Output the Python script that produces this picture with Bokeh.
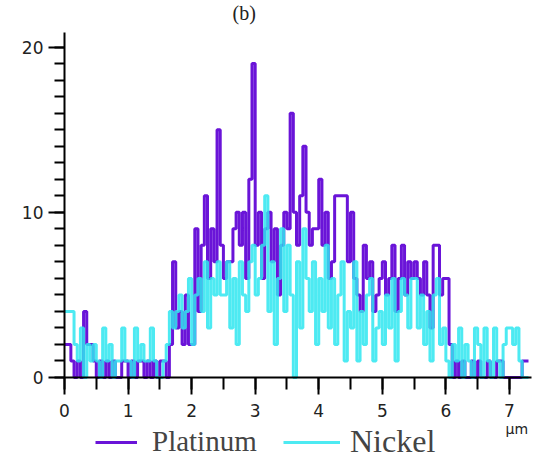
from bokeh.plotting import figure
from bokeh.models import (SingleIntervalTicker, Legend, LegendItem, Range1d, Label)
from bokeh.embed import file_html
from bokeh.resources import INLINE

# bin width 0.05 um, bins start at 0
bin_width = 0.05
platinum = [
    2, 2, 1, 0, 1, 0, 4, 2, 2, 1,
    0, 1, 0, 1, 0, 1, 0, 0, 1, 1,
    0, 1, 0, 1, 1, 0, 1, 0, 1, 0,
    1, 1, 0, 2, 7, 3, 4, 2, 5, 2,
    2, 9, 4, 8, 11, 6, 9, 7, 15, 8,
    6, 7, 7, 9, 10, 8, 10, 6, 12, 19,
    8, 10, 6, 9, 10, 7, 9, 5, 8, 10,
    9, 16, 10, 8, 11, 14, 10, 8, 9, 9,
    12, 8, 10, 6, 7, 11, 11, 11, 11, 7,
    10, 6, 5, 4, 8, 6, 7, 4, 5, 6,
    7, 5, 6, 8, 4, 6, 8, 5, 7, 6,
    7, 6, 5, 7, 5, 3, 8, 8, 5, 6,
    6, 2, 0, 1, 0, 1, 0, 0, 1, 0,
    1, 0, 0, 1, 0, 0, 1, 1, 0, 0,
    0, 0, 0, 0, 1, 1,
]
nickel = [
    4, 4, 4, 2, 1, 3, 0, 2, 1, 2,
    1, 0, 3, 1, 2, 0, 1, 1, 3, 1,
    1, 0, 3, 1, 2, 1, 1, 3, 1, 0,
    0, 1, 2, 4, 3, 4, 5, 3, 4, 6,
    2, 5, 6, 4, 7, 3, 6, 5, 7, 5,
    5, 7, 3, 6, 2, 7, 5, 4, 7, 8,
    5, 6, 8, 11, 4, 7, 2, 6, 9, 4,
    8, 5, 0, 7, 3, 9, 6, 4, 7, 2,
    6, 4, 8, 3, 6, 2, 5, 7, 1, 4,
    3, 7, 1, 4, 2, 5, 6, 1, 3, 4,
    2, 5, 3, 6, 1, 4, 6, 5, 3, 6,
    6, 3, 5, 2, 4, 1, 5, 6, 2, 3,
    1, 0, 2, 1, 3, 0, 2, 1, 0, 3,
    2, 0, 3, 1, 0, 3, 1, 0, 2, 3,
    3, 2, 3, 1, 0, 0,
]
series_names = ["Platinum", "Nickel"]
series_colors = ["#6a14d8", "#2ee6f0"]
unit_label = "µm"
panel_label = "(b)"


def step_xy(vals):
    xs = [i * bin_width for i in range(len(vals) + 1)]
    ys = list(vals) + [vals[-1]]
    return xs, ys


# frame covers the whole canvas; axes sit at data 0 via fixed_location
p = figure(width=536, height=462, output_backend="svg", toolbar_location=None,
           x_range=Range1d(-1.007, 7.426), y_range=Range1d(-5.145, 22.82),
           min_border=0)
p.outline_line_color = None
p.xgrid.visible = False
p.ygrid.visible = False
p.background_fill_color = "white"

xs, ys = step_xy(platinum)
r_pt = p.step(xs, ys, mode="after", line_color=series_colors[0], line_width=3)
xs, ys = step_xy(nickel)
r_ni = p.step(xs, ys, mode="after", line_color=series_colors[1], line_width=3,
              line_alpha=0.85)

for ax in (p.xaxis[0], p.yaxis[0]):
    ax.fixed_location = 0
    ax.axis_line_width = 2
    ax.major_tick_line_width = 2
    ax.minor_tick_line_width = 2
    ax.major_tick_in = 0
    ax.minor_tick_in = 0
    ax.major_label_text_font = "DejaVu Sans"
    ax.major_label_text_font_size = "17px"
    ax.major_label_text_color = "#222222"

p.xaxis.bounds = (0, 7.35)
p.xaxis.ticker = SingleIntervalTicker(interval=1, num_minor_ticks=2)
p.xaxis.major_tick_out = 17
p.xaxis.minor_tick_out = 12
p.xaxis.major_label_standoff = 9

p.yaxis.bounds = (0, 20.9)
p.yaxis.ticker = SingleIntervalTicker(interval=10, num_minor_ticks=10)
p.yaxis.major_tick_out = 16
p.yaxis.minor_tick_out = 10
p.yaxis.major_label_standoff = 5

legend_pt = Legend(items=[LegendItem(label=series_names[0], renderers=[r_pt])],
                   location=(95, 4),
                   label_text_font="Liberation Serif", label_text_font_size="29px",
                   glyph_width=42, glyph_height=30, padding=0, margin=0,
                   border_line_alpha=0, background_fill_alpha=0, label_standoff=15)
legend_ni = Legend(items=[LegendItem(label=series_names[1], renderers=[r_ni])],
                   location=(283, 2),
                   label_text_font="Liberation Serif", label_text_font_size="32px",
                   glyph_width=57, glyph_height=30, padding=0, margin=0,
                   border_line_alpha=0, background_fill_alpha=0, label_standoff=10)
p.add_layout(legend_pt)
p.add_layout(legend_ni)

p.add_layout(Label(x=505, y=34, x_units="screen", y_units="screen", text=unit_label,
                   text_font="DejaVu Sans", text_font_size="14px",
                   text_baseline="middle", text_color="#222222"))
p.add_layout(Label(x=232, y=461, x_units="screen", y_units="screen", text=panel_label,
                   text_font="Liberation Serif", text_font_size="20px",
                   text_baseline="top", text_color="#222222"))

open("out.html", "w").write(file_html(p, INLINE))
